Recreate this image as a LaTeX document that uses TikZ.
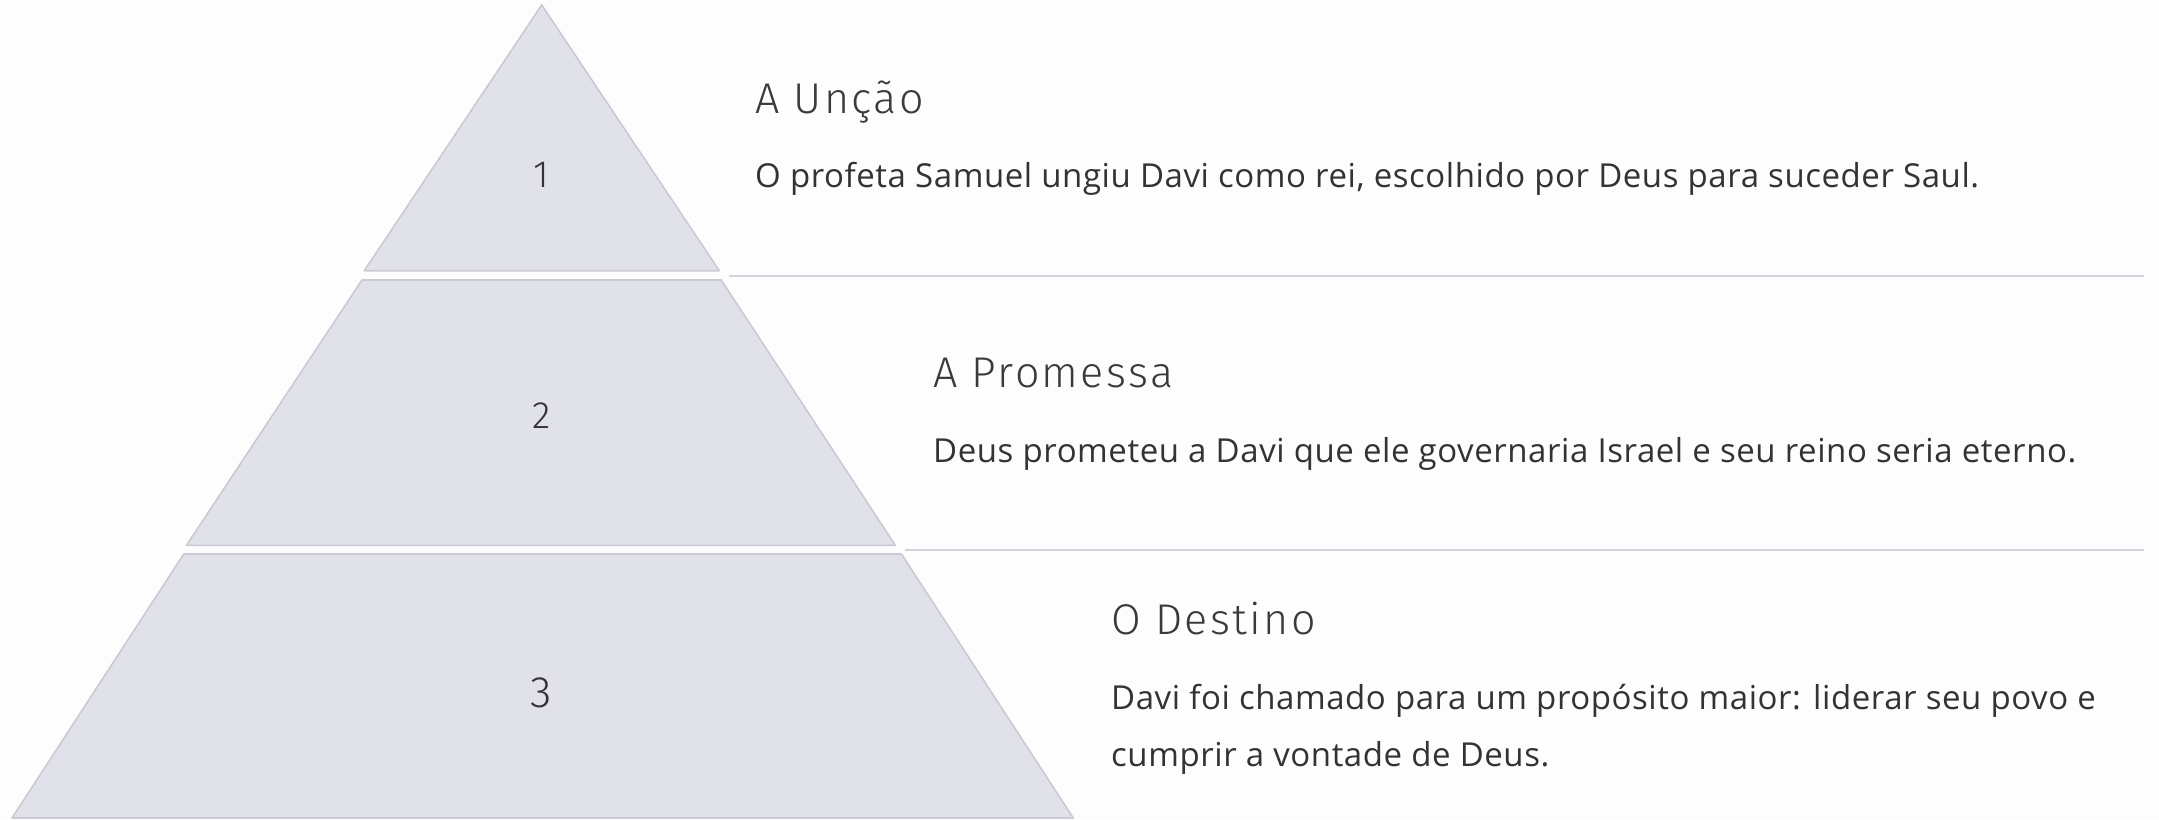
\documentclass[tikz,border=0pt]{standalone}
\usepackage{fontspec}
\setmainfont{Open Sans}[LetterSpace=1.7]
\newfontfamily\titlefont{Fira Sans Light}[LetterSpace=5.5]
\newfontfamily\numfont{Fira Sans Light}
\definecolor{bgc}{HTML}{FDFDFD}
\definecolor{tierfill}{HTML}{E0E1E9}
\definecolor{tierline}{HTML}{C9CAD3}
\definecolor{sepline}{HTML}{D2D3DA}
\definecolor{txt}{HTML}{333333}
\definecolor{ttl}{HTML}{3A3A3A}
\begin{document}
\begin{tikzpicture}[x=1pt,y=-1pt,
  tier/.style={fill=tierfill, draw=tierline, line width=1.6pt, line join=round},
  sep/.style={draw=sepline, line width=2pt},
  num/.style={font=\numfont\fontsize{38}{40}\selectfont, text=txt, inner sep=0pt, anchor=center},
  ttlstyle/.style={font=\titlefont\fontsize{43}{46}\selectfont, text=ttl, inner sep=0pt, anchor=base west},
  body/.style={font=\fontsize{33}{36}\selectfont, text=txt, inner sep=0pt, anchor=base west}]
\fill[bgc] (0,0) rectangle (2159,819);
\useasboundingbox (0,0) rectangle (2159,819);
% tiers
\draw[tier] (541.7,5) -- (719.3,270.7) -- (364.3,270.7) -- cycle;
\draw[tier] (362,280) -- (721.2,280) -- (895.3,545.3) -- (186.5,545.3) -- cycle;
\draw[tier] (183.8,554) -- (901.4,554) -- (1073.3,818) -- (12,818) -- cycle;
% numbers
\node[num] (n1) at (541.7,175) {1};
\node[num] (n2) at (541.4,415.7) {2};
\node[num, font=\numfont\fontsize{44}{46}\selectfont] (n3) at (541.6,693.3) {3};
% separators
\coordinate (s1a) at (729,276);
\coordinate (s1b) at (2144,276);
\coordinate (s2a) at (905,550);
\coordinate (s2b) at (2144,550);
\draw[sep] (s1a) -- (s1b);
\draw[sep] (s2a) -- (s2b);
% texts
\node[ttlstyle] (t1) at (755,113.3) {A Unção};
\node[body] (b1) at (755,187.7) {O profeta Samuel ungiu Davi como rei, escolhido por Deus para suceder Saul.};
\node[ttlstyle] (t2) at (933,387.7) {A Promessa};
\node[body] (b2) at (933,462.7) {Deus prometeu a Davi que ele governaria Israel e seu reino seria eterno.};
\node[ttlstyle] (t3) at (1111,634) {O Destino};
\node[body] (b3a) at (1111,709.3) {Davi foi chamado para um propósito maior: liderar seu povo e};
\node[body] (b3b) at (1111,766.7) {cumprir a vontade de Deus.};
\end{tikzpicture}
\end{document}
